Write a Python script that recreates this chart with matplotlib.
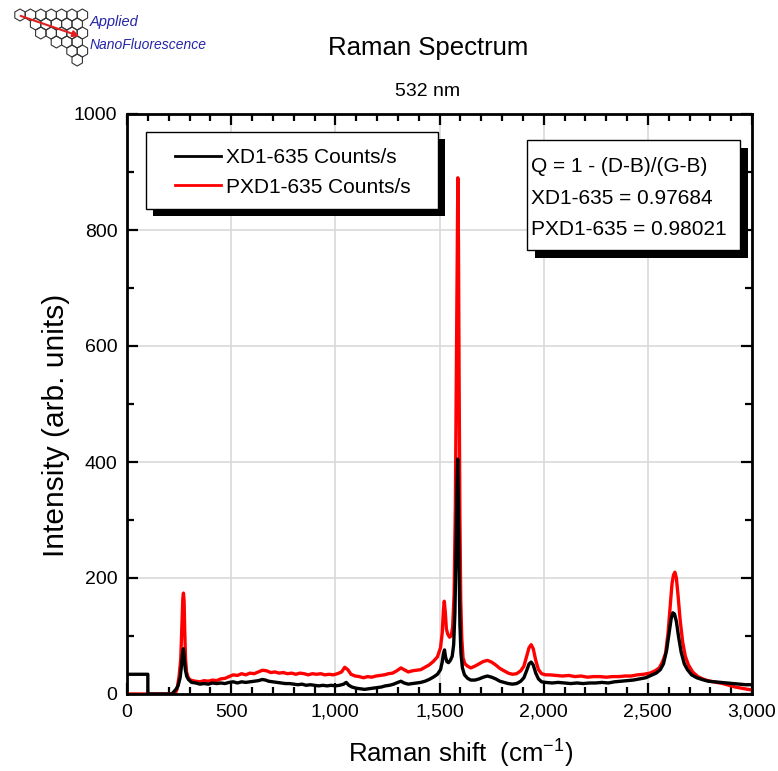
import matplotlib
matplotlib.use("Agg")
import matplotlib.pyplot as plt
from matplotlib.patches import Rectangle, RegularPolygon
from matplotlib.ticker import MultipleLocator, FuncFormatter

plt.rcParams['font.family'] = ['Liberation Sans', 'DejaVu Sans']
plt.rcParams['mathtext.fontset'] = 'custom'
plt.rcParams['mathtext.rm'] = 'Liberation Sans'
plt.rcParams['mathtext.it'] = 'Liberation Sans:italic'

# XD1-635 (black)
xd1_shift = [0, 100, 100, 215, 225, 235, 245, 255, 262, 267, 271, 275, 280, 287, 295, 310, 330, 350,
             370, 390, 410, 430, 450, 470, 490, 510, 530, 550, 570, 590, 610, 630, 650, 665, 680,
             700, 720, 740, 760, 780, 800, 820, 840, 860, 880, 900, 920, 940, 960, 980, 1000, 1020,
             1040, 1052, 1065, 1080, 1100, 1120, 1140, 1160, 1180, 1200, 1220, 1240, 1260, 1280,
             1300, 1315, 1330, 1350, 1370, 1390, 1410, 1430, 1450, 1470, 1490, 1505, 1513, 1519,
             1524, 1529, 1535, 1543, 1552, 1561, 1568, 1574, 1579, 1583, 1587, 1590, 1594, 1598,
             1603, 1610, 1620, 1635, 1650, 1670, 1690, 1710, 1730, 1750, 1770, 1790, 1810, 1830,
             1850, 1870, 1890, 1905, 1918, 1930, 1940, 1950, 1962, 1975, 1990, 2010, 2040, 2070,
             2100, 2130, 2160, 2190, 2220, 2250, 2280, 2310, 2340, 2370, 2400, 2430, 2460, 2490,
             2515, 2540, 2560, 2575, 2590, 2602, 2612, 2620, 2628, 2637, 2647, 2660, 2675, 2690,
             2710, 2735, 2760, 2790, 2820, 2850, 2880, 2910, 2940, 2970, 3000]
xd1_counts = [34, 34, 0, 0, 4, 8, 14, 28, 50, 72, 78, 62, 42, 30, 25, 20, 19, 17,
              18, 17, 19, 18, 19, 18, 20, 21, 19, 21, 20, 21, 22, 23, 25, 24, 22,
              21, 20, 19, 18, 18, 17, 16, 17, 15, 16, 15, 14, 15, 14, 15, 14, 15,
              17, 20, 15, 12, 10, 9, 8, 9, 10, 11, 12, 14, 15, 17,
              20, 22, 19, 17, 18, 19, 20, 22, 25, 29, 34, 42, 55, 70,
              76, 64, 56, 54, 58, 65, 85, 140, 240, 340, 405, 350, 220, 120,
              70, 45, 33, 27, 24, 24, 26, 29, 31, 29, 26, 22, 20, 18,
              17, 18, 22, 28, 40, 52, 55, 50, 36, 26, 21, 20, 19, 20,
              19, 18, 19, 18, 19, 19, 20, 19, 21, 22, 23, 24, 26, 28,
              32, 36, 42, 52, 75, 105, 130, 140, 138, 125, 100, 72, 52, 42,
              33, 28, 25, 22, 21, 20, 19, 18, 17, 16, 16]

# PXD1-635 (red)
pxd1_shift = [0, 230, 240, 250, 258, 264, 268, 271, 274, 277, 281, 286, 292, 300, 315, 330, 350,
              370, 390, 410, 430, 450, 470, 490, 510, 530, 550, 570, 590, 610, 630, 650, 670, 690,
              710, 730, 750, 770, 790, 810, 830, 850, 870, 890, 910, 930, 950, 970, 990, 1010,
              1030, 1045, 1060, 1075, 1095, 1115, 1135, 1155, 1175, 1195, 1215, 1235, 1255, 1275,
              1295, 1315, 1330, 1350, 1370, 1390, 1410, 1430, 1450, 1470, 1490, 1505, 1513, 1519,
              1523, 1528, 1533, 1540, 1548, 1556, 1563, 1570, 1576, 1581, 1585, 1588, 1591, 1594,
              1598, 1602, 1607, 1613, 1622, 1635, 1650, 1670, 1690, 1710, 1730, 1750, 1770, 1790,
              1810, 1830, 1850, 1870, 1890, 1905, 1918, 1930, 1940, 1950, 1962, 1975, 1990, 2010,
              2030, 2060, 2090, 2120, 2150, 2180, 2210, 2240, 2270, 2300, 2330, 2360, 2390, 2420,
              2450, 2480, 2510, 2535, 2555, 2570, 2585, 2597, 2607, 2616, 2623, 2630, 2637, 2645,
              2655, 2667, 2680, 2695, 2715, 2740, 2770, 2800, 2830, 2860, 2890, 2920, 2950, 2980, 3000]
pxd1_counts = [0, 0, 8, 30, 60, 120, 165, 174, 160, 110, 60, 38, 30, 25, 23, 22, 21,
               23, 22, 24, 23, 26, 27, 30, 33, 32, 35, 33, 36, 35, 38, 41, 40, 37,
               38, 36, 37, 35, 36, 34, 36, 35, 33, 35, 34, 35, 33, 34, 33, 35,
               38, 46, 42, 34, 31, 30, 28, 30, 29, 31, 32, 33, 35, 36,
               40, 45, 42, 38, 40, 41, 42, 46, 50, 56, 64, 80, 105, 145,
               160, 140, 112, 103, 98, 100, 115, 170, 320, 560, 760, 890, 780, 550,
               300, 160, 95, 62, 52, 48, 45, 48, 52, 56, 58, 55, 50, 44,
               40, 36, 34, 35, 40, 48, 65, 80, 85, 78, 58, 42, 35, 33,
               33, 32, 31, 32, 30, 31, 29, 30, 30, 29, 30, 30, 31, 31,
               33, 34, 36, 40, 45, 55, 70, 105, 150, 190, 205, 210, 200, 170,
               128, 90, 65, 50, 38, 30, 25, 22, 20, 18, 15, 12, 10, 8, 7]

legend_labels = ["XD1-635 Counts/s", "PXD1-635 Counts/s"]
quality_lines = ["Q = 1 - (D-B)/(G-B)", "XD1-635 = 0.97684", "PXD1-635 = 0.98021"]

W, H = 778, 771
fig = plt.figure(figsize=(W / 100, H / 100), dpi=100)
ax = fig.add_axes([127 / W, 1 - 694 / H, 625 / W, 580 / H])

h_red, = ax.plot(pxd1_shift, pxd1_counts, color='#ff0000', lw=2.4, zorder=2)
h_black, = ax.plot(xd1_shift, xd1_counts, color='black', lw=2.4, zorder=3)

ax.set_xlim(0, 3000)
ax.set_ylim(0, 1000)
ax.xaxis.set_major_locator(MultipleLocator(500))
ax.xaxis.set_minor_locator(MultipleLocator(100))
ax.yaxis.set_major_locator(MultipleLocator(200))
ax.yaxis.set_minor_locator(MultipleLocator(100))
ax.xaxis.set_major_formatter(FuncFormatter(lambda v, p: f"{v:,.0f}"))
ax.tick_params(which='both', direction='in', top=True, right=True, width=1.6, labelsize=14)
ax.tick_params(which='major', length=8, pad=7)
ax.tick_params(which='minor', length=5)
for sp in ax.spines.values():
    sp.set_linewidth(2)
ax.grid(True, which='major', color='#d9d9d9', lw=1.2)
ax.set_axisbelow(True)

ax.set_xlabel("Raman shift  (cm$^{-1}$)", fontsize=18.5)
ax.set_ylabel("Intensity (arb. units)", fontsize=21.5)
ax.xaxis.set_label_coords(0.533, -0.075)
ax.yaxis.set_label_coords(-0.092, 0.464)

fig.text(428 / W, 1 - 48 / H, "Raman Spectrum", fontsize=18.5, ha='center', va='center')
fig.text(428 / W, 1 - 91 / H, "532 nm", fontsize=14, ha='center', va='center')

# boxes with black drop shadow
def boxed(x0, y0, x1, y1, off):
    dx, dy = off / 625, off / 580
    ax.add_patch(Rectangle((x0 + dx, y0 - dy), x1 - x0, y1 - y0, transform=ax.transAxes,
                           fc='black', ec='none', zorder=5, clip_on=False))
    ax.add_patch(Rectangle((x0, y0), x1 - x0, y1 - y0, transform=ax.transAxes,
                           fc='white', ec='black', lw=1, zorder=5.1, clip_on=False))

boxed(0.0304, 0.836, 0.4976, 0.969, 7)
leg = ax.legend([h_black, h_red], legend_labels, loc='upper left',
                bbox_to_anchor=(0.0768, 0.941), frameon=False, fontsize=15,
                handlelength=2.2, handletextpad=0.25, labelspacing=0.5, borderpad=0,
                borderaxespad=0)
for ln in leg.get_lines():
    ln.set_linewidth(2)
leg.set_zorder(6)

boxed(0.64, 0.766, 0.981, 0.955, 8)
for txt, yy in zip(quality_lines, [0.910, 0.855, 0.801]):
    ax.text(0.646, yy, txt, transform=ax.transAxes, fontsize=15, va='center', zorder=6)

# logo
lax = fig.add_axes([0, 1 - 70 / H, 260 / W, 70 / H])
lax.set_xlim(0, 260)
lax.set_ylim(70, 0)
lax.axis('off')
hw = 10.4
for r in range(6):
    off = 5.2 * (r % 2)
    k = round((12 * r - off) / hw)
    x = 20 + off + hw * k
    while x <= 84:
        lax.add_patch(RegularPolygon((x, 15 + 9 * r), 6, radius=6, orientation=0,
                                     fc='none', ec='#333333', lw=0.8))
        x += hw
lax.annotate("", xy=(82, 37), xytext=(18, 15),
             arrowprops=dict(arrowstyle='-|>', color='#e02020', lw=1.5, mutation_scale=9))
lax.text(90, 22, "Applied", fontsize=10.5, style='italic', color='#2424a8', va='center')
lax.text(90, 45, "NanoFluorescence", fontsize=10, style='italic', color='#2424a8', va='center')

fig.savefig("out.png", dpi=100)
